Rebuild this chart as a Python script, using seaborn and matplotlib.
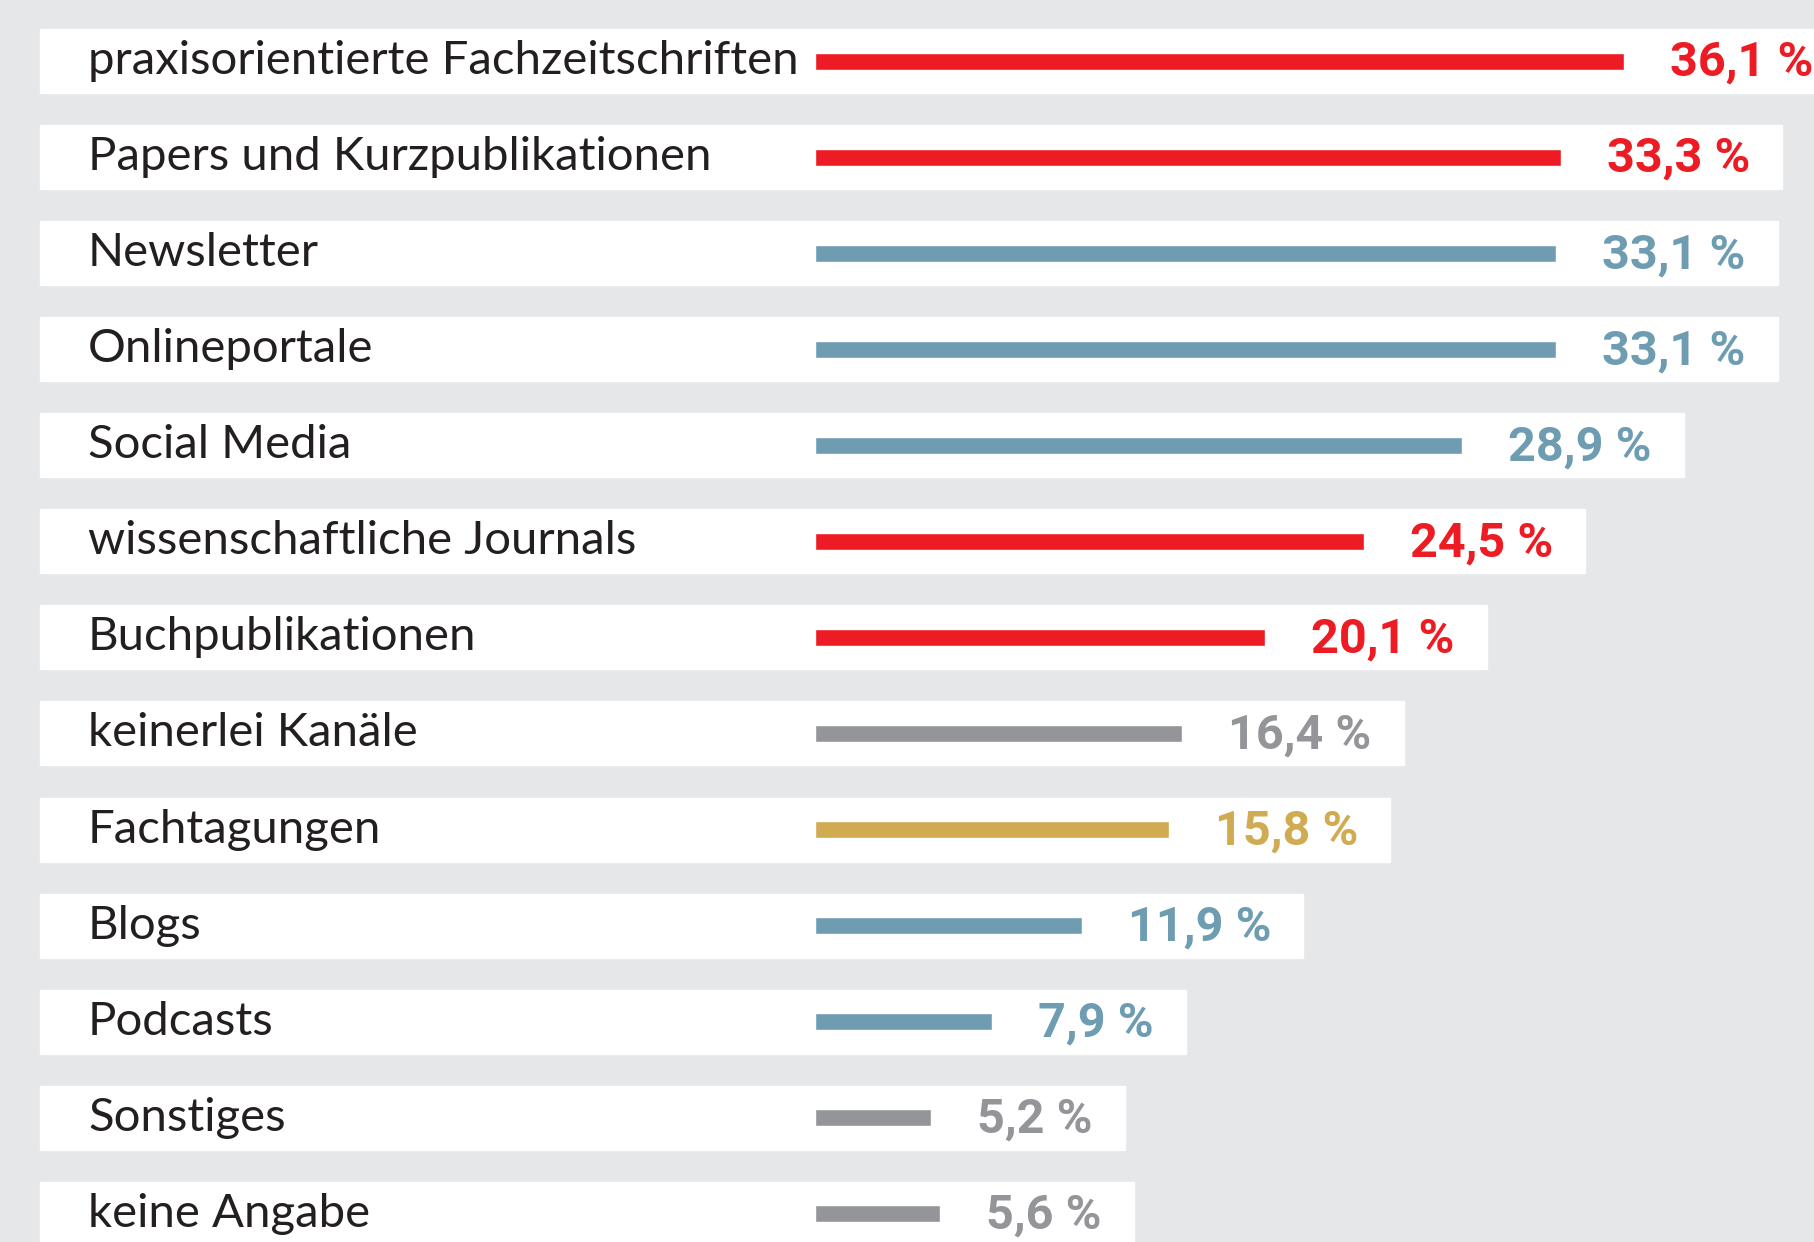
import matplotlib
matplotlib.use("Agg")
import matplotlib.pyplot as plt
import seaborn as sns
import pandas as pd

# Daten
kanaele = [
    "praxisorientierte Fachzeitschriften",
    "Papers und Kurzpublikationen",
    "Newsletter",
    "Onlineportale",
    "Social Media",
    "wissenschaftliche Journals",
    "Buchpublikationen",
    "keinerlei Kanäle",
    "Fachtagungen",
    "Blogs",
    "Podcasts",
    "Sonstiges",
    "keine Angabe",
]
anteile = [36.1, 33.3, 33.1, 33.1, 28.9, 24.5, 20.1, 16.4, 15.8, 11.9, 7.9, 5.2, 5.6]
gruppen = ["rot", "rot", "blau", "blau", "blau", "rot", "rot",
           "grau", "gold", "blau", "blau", "grau", "grau"]

farben = {"rot": "#ED1C24", "blau": "#6E9DB2", "grau": "#939598", "gold": "#D0AB52"}
hintergrund = "#E6E7E9"
textfarbe = "#231F20"

df = pd.DataFrame({"kanal": kanaele, "anteil": anteile, "gruppe": gruppen})

sns.set_theme(style="white")
plt.rcParams["font.family"] = ["Lato", "DejaVu Sans"]

W, H, DPI = 1815, 1242, 100
fig = plt.figure(figsize=(W / DPI, H / DPI), dpi=DPI, facecolor=hintergrund)
ax = fig.add_axes([0, 0, 1, 1])
ax.set_facecolor(hintergrund)

# Skalierung: Pixel -> Daten
px_per_unit = 22.4
x0_px = 815
row_px = 96.07
row0_px = 61

sns.barplot(data=df, x="anteil", y="kanal", hue="gruppe", palette=farben,
            orient="h", width=17 / row_px, dodge=False, legend=False,
            ax=ax, zorder=3, saturation=1)
ax.set_xlim(-x0_px / px_per_unit, (W - x0_px) / px_per_unit)
ax.set_ylim((H - row0_px) / row_px, -row0_px / row_px)

band_left = (40 - x0_px) / px_per_unit
label_x = (88 - x0_px) / px_per_unit
gap = 46 / px_per_unit
pad_right = 32 / px_per_unit

fig.canvas.draw()
renderer = fig.canvas.get_renderer()
inv = ax.transData.inverted()

for i, (k, v, g) in enumerate(zip(kanaele, anteile, gruppen)):
    ax.text(label_x, i, k, ha="left", va="center", fontsize=34,
            color=textfarbe, zorder=4)
    t = ax.text(v + gap, i + 0.02, f"{v:.1f}".replace(".", ",") + " %", ha="left",
                va="center", fontsize=35, fontweight="bold",
                family=["Roboto", "DejaVu Sans"],
                color=farben[g], zorder=4)
    bb = t.get_window_extent(renderer)
    x_end = inv.transform((bb.x1, 0))[0] + pad_right
    ax.barh(i, x_end - band_left, left=band_left, height=64 / row_px,
            color="white", zorder=1)

ax.set_xlabel("")
ax.set_ylabel("")
ax.set_xticks([])
ax.set_yticks([])
sns.despine(ax=ax, left=True, bottom=True)

fig.savefig("out.png", dpi=DPI, facecolor=hintergrund)
